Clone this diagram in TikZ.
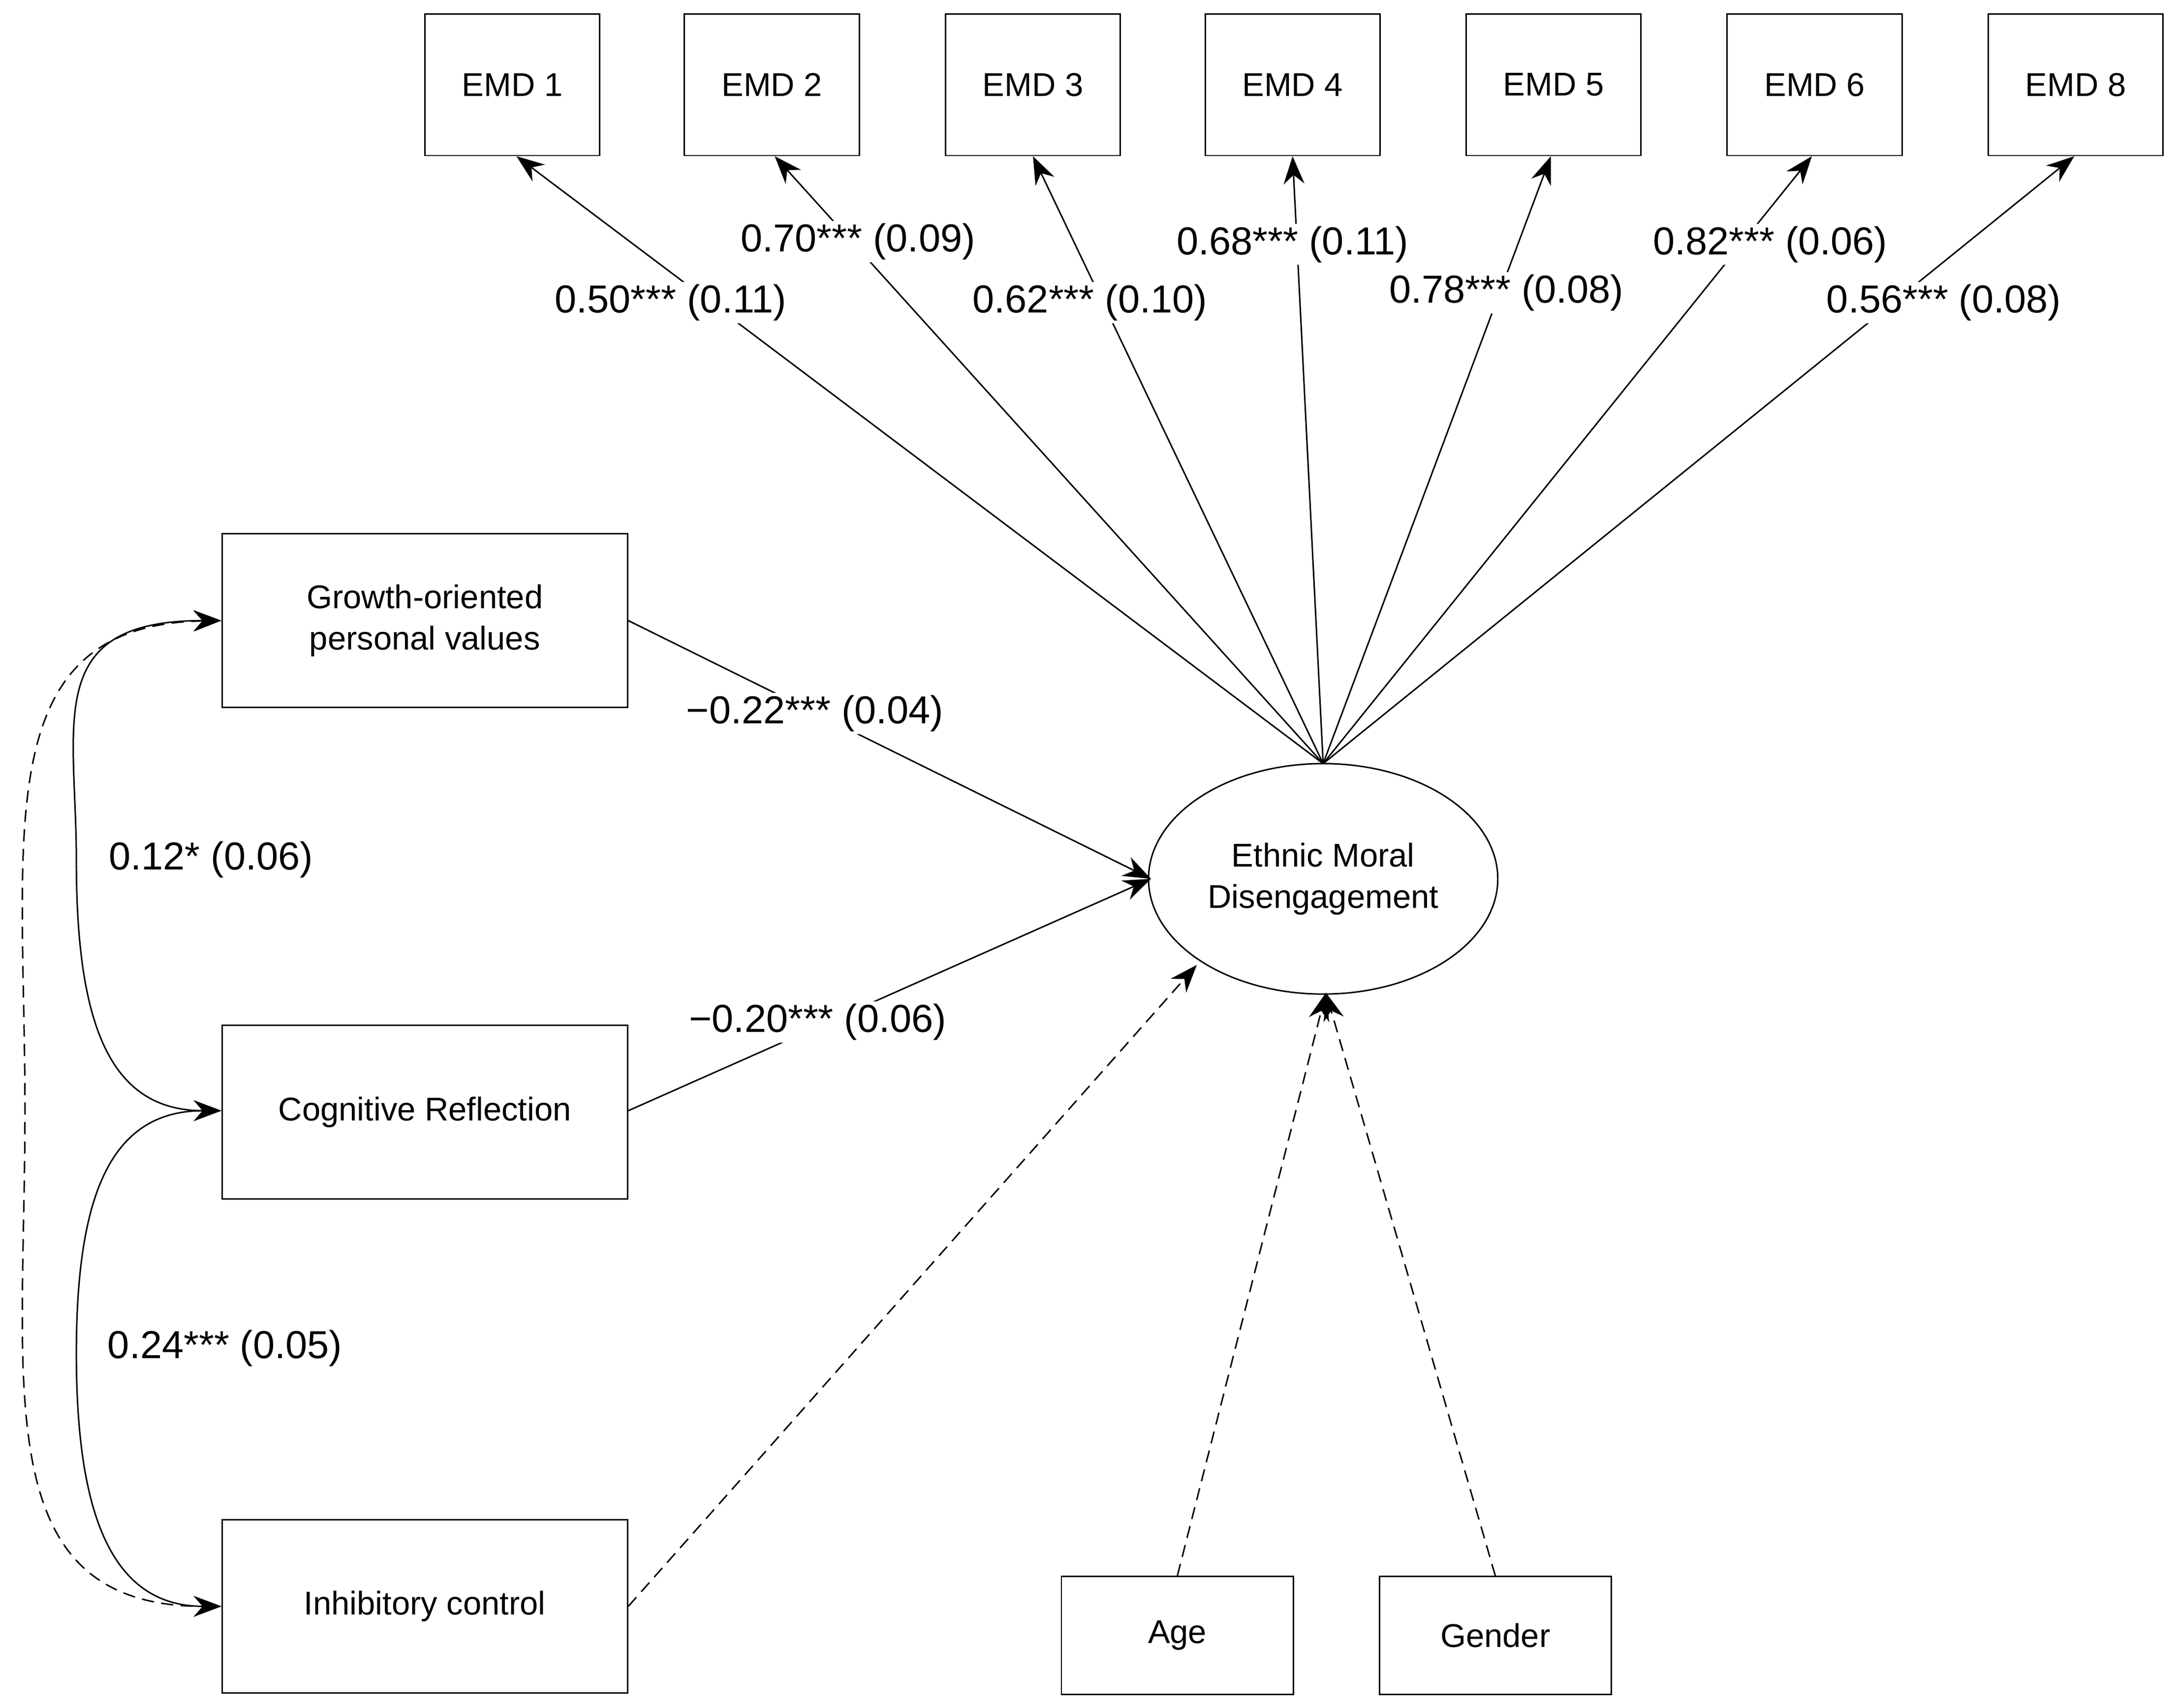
\documentclass[tikz,border=0pt]{standalone}
\usepackage{fontspec}
\setmainfont{Liberation Sans}
\usetikzlibrary{arrows.meta,shapes.geometric}
\begin{document}
\begin{tikzpicture}[x=0.2mm,y=-0.2mm,
  box/.style={draw,line width=0.6pt,minimum width=25.2mm,minimum height=20.4mm,inner sep=0pt,font=\fontsize{13.5}{16}\selectfont},
  lbox/.style={draw,line width=0.6pt,minimum width=58.4mm,minimum height=25mm,inner sep=0pt,align=center,font=\fontsize{13.5}{17}\selectfont},
  sbox/.style={draw,line width=0.6pt,minimum width=33.4mm,minimum height=17mm,inner sep=0pt,font=\fontsize{13.5}{16}\selectfont},
  lab/.style={fill=white,inner sep=1pt,font=\fontsize{16}{19}\selectfont},
  arr/.style={-{Stealth[length=4mm,width=3mm]},line width=0.6pt},
  darr/.style={arr,dashed,dash pattern=on 5pt off 3pt},
  cov/.style={{Stealth[length=4mm,width=3mm]}-{Stealth[length=4mm,width=3mm]},line width=0.6pt}]
\useasboundingbox (0,0) rectangle (1568,1230);
\foreach \n/\x/\t in {1/369/EMD 1,2/556/EMD 2,3/744/EMD 3,4/931/EMD 4,5/1119/EMD 5,6/1307/EMD 6,8/1495/EMD 8}
  \node[box] (emd\n) at (\x,61) {\t};
\node[draw,ellipse,line width=0.6pt,minimum width=50mm,minimum height=33.2mm,align=center,font=\fontsize{13.5}{17}\selectfont] (e) at (953,633) {Ethnic Moral\\Disengagement};
\coordinate (s) at (953,550);
\foreach \n/\x in {1/372,2/558,3/744,4/931,5/1117,6/1305,8/1494}
  \draw[arr] (s) -- (emd\n.south -| \x,0);
\node[lab] at (483,218) {0.50*** (0.11)};
\node[lab] at (618,174) {0.70*** (0.09)};
\node[lab] at (785,218) {0.62*** (0.10)};
\node[lab] at (931,176) {0.68*** (0.11)};
\node[lab] at (1085,211) {0.78*** (0.08)};
\node[lab] at (1275,176) {0.82*** (0.06)};
\node[lab] at (1400,218) {0.56*** (0.08)};
\node[lbox] (g) at (306,447) {Growth-oriented\\personal values};
\node[lbox] (c) at (306,801) {Cognitive Reflection};
\node[lbox] (i) at (306,1157) {Inhibitory control};
\node[sbox] (age) at (848,1178) {Age};
\node[sbox] (gen) at (1077,1178) {Gender};
\coordinate (e1) at (829,633);
\coordinate (e2) at (862,695);
\coordinate (e3) at (955,715);
\draw[arr] (g.east |- 0,447) -- (e1);
\draw[arr] (c.east |- 0,800) -- (e1);
\node[lab] at (587,514) {−0.22*** (0.04)};
\node[lab] at (589,736) {−0.20*** (0.06)};
\draw[darr] (i.east |- 0,1157) -- (e2);
\draw[darr] (age.north) -- (e3);
\draw[darr] (gen.north) -- (e3);
\draw[cov] (g.west |- 0,447) .. controls (30,447) and (55,520) .. (55,620) .. controls (55,740) and (80,800) .. (c.west |- 0,800);
\draw[cov] (c.west |- 0,800) .. controls (80,800) and (55,860) .. (55,975) .. controls (55,1090) and (80,1157) .. (i.west |- 0,1157);
\draw[cov,dashed,dash pattern=on 5pt off 3pt] (g.west |- 0,447) .. controls (-10,450) and (18,600) .. (18,800) .. controls (18,1000) and (-10,1157) .. (i.west |- 0,1157);
\node[lab,fill=none] at (152,619) {0.12* (0.06)};
\node[lab,fill=none] at (162,971) {0.24*** (0.05)};
\end{tikzpicture}
\end{document}
